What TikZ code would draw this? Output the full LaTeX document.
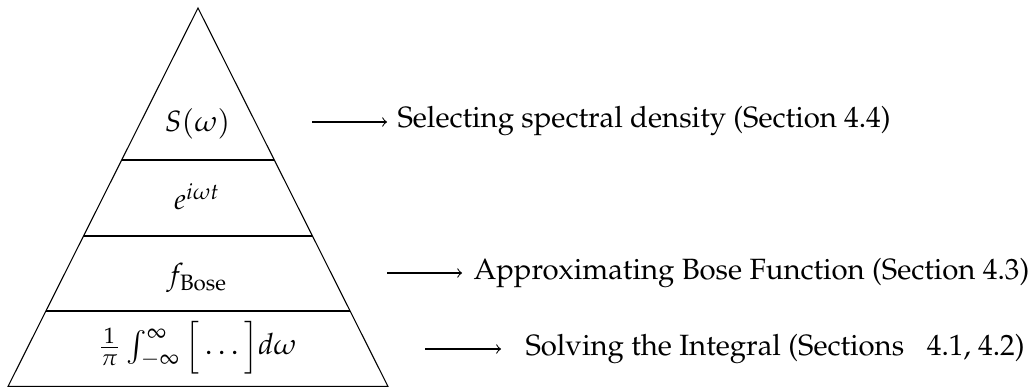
\documentclass[tikz,border=0pt]{standalone}
\usepackage[T1]{fontenc}
\usepackage{mathpazo}
\usetikzlibrary{calc}
\begin{document}
\begin{tikzpicture}[x=0.375pt,y=-0.375pt,
  level/.style={inner sep=0pt,anchor=base,font=\fontsize{11}{13.6}\selectfont},
  lbl/.style={inner sep=0pt,anchor=base west,font=\fontsize{11}{13.6}\selectfont},
  arr/.style={->,line width=0.4pt}]
\useasboundingbox (0,0) rectangle (1034,387);
\coordinate (apex) at (198,8);
\coordinate (bl) at (8,386.5);
\coordinate (br) at (388,386.5);
\draw (bl) -- (apex) -- (br) -- cycle;
\draw ($(apex)!{(160-8)/378.5}!(bl)$) coordinate (a1) -- ($(apex)!{(160-8)/378.5}!(br)$) coordinate (b1);
\draw ($(apex)!{(236-8)/378.5}!(bl)$) coordinate (a2) -- ($(apex)!{(236-8)/378.5}!(br)$) coordinate (b2);
\draw ($(apex)!{(311-8)/378.5}!(bl)$) coordinate (a3) -- ($(apex)!{(311-8)/378.5}!(br)$) coordinate (b3);
\node[level] (s) at (197.5,132) {$S(\omega)$};
\node[level] (e) at (197,210) {$e^{i\omega t}$};
\node[level] (f) at (197,285) {$f_{\mathrm{Bose}}$};
\node[level] (int) at (197.5,355) {$\frac{1}{\pi}\int_{-\infty}^{\infty}\Big[\dots\Big]d\omega$};
\node[lbl] (t1) at (397,128) {Selecting spectral density (Section 4.4)};
\node[lbl] (t2) at (473,280) {Approximating Bose Function (Section 4.3)};
\node[lbl] (t3) at (525,356) {Solving the Integral (Sections\hspace{8.5pt}4.1, 4.2)};
\coordinate (p1) at (312,122);
\coordinate (p2) at (387,273);
\coordinate (p3) at (425,349);
\draw[arr,shorten >=3.75pt] (p1) -- (p1 -| t1.west);
\draw[arr,shorten >=4.1pt] (p2) -- (p2 -| t2.west);
\draw[arr,shorten >=9pt] (p3) -- (p3 -| t3.west);
\end{tikzpicture}
\end{document}
